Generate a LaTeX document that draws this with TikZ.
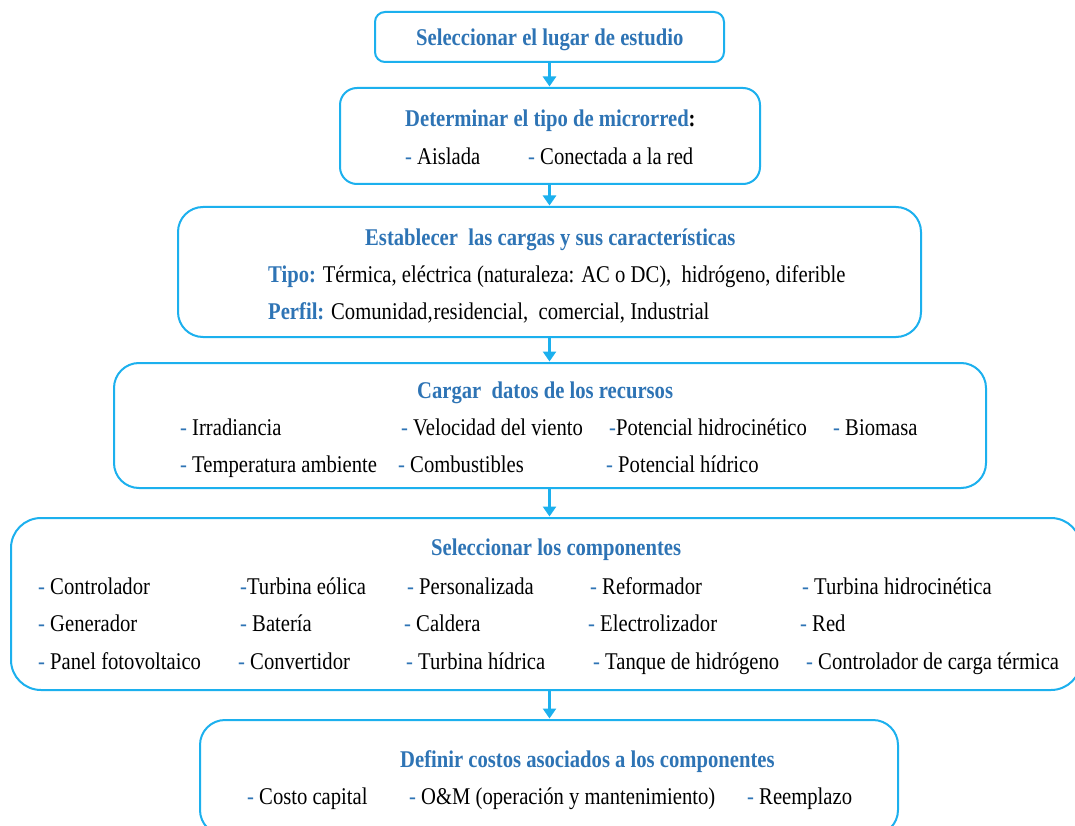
\documentclass[tikz,border=0pt]{standalone}
\usepackage{fontspec}
\setmainfont{Liberation Serif}[FakeStretch=0.86]
\usetikzlibrary{arrows.meta}
\definecolor{edge}{HTML}{1CB0EE}
\definecolor{head}{HTML}{2E74B5}
\newcommand{\dsh}{\textcolor{head}{-}}
\tikzset{
  stage/.style={draw=edge, line width=2pt, fill=white, inner sep=0pt},
  flow/.style={draw=edge, line width=3.2pt, -{Triangle[length=10pt,width=13pt]}, shorten >=0.5pt},
  ttl/.style={anchor=base west, inner sep=0pt, text=head, font=\fontsize{24}{28}\selectfont\bfseries},
  itm/.style={anchor=base west, inner sep=0pt, font=\fontsize{24}{28}\selectfont},
}
\begin{document}
\begin{tikzpicture}[x=1pt,y=-1pt]
\useasboundingbox (0,0) rectangle (1075,826);
\clip (0,0) rectangle (1075,826);
\fill[white] (0,0) rectangle (1075,826);

% stage boxes
\node[stage, rounded corners=10pt, minimum width=349pt, minimum height=50pt] (b1) at (549.5,37) {};
\node[stage, rounded corners=17pt, minimum width=420pt, minimum height=96pt] (b2) at (550,136) {};
\node[stage, rounded corners=25pt, minimum width=743pt, minimum height=130pt] (b3) at (549.5,272) {};
\node[stage, rounded corners=25pt, minimum width=872pt, minimum height=125pt] (b4) at (550,425.5) {};
\node[stage, rounded corners=30pt, minimum width=1070pt, minimum height=172pt] (b5) at (546,604) {};
\node[stage, rounded corners=25pt, minimum width=698pt, minimum height=115pt] (b6) at (549,777.5) {};

% connectors
\draw[flow] (b1.south) -- (b1.south |- b2.north);
\draw[flow] (b2.south -| b1.south) -- (b1.south |- b3.north);
\draw[flow] (b3.south -| b1.south) -- (b1.south |- b4.north);
\draw[flow] (b4.south -| b1.south) -- (b1.south |- b5.north);
\draw[flow] (b5.south -| b1.south) -- (b1.south |- b6.north);

% box 1
\node[ttl] (t1) at (416,46) {Seleccionar el lugar de estudio};

% box 2
\node[ttl] (t2) at (405,127) {Determinar el tipo de microrred\textcolor{black}{:}};
\node[itm] (t2a) at (405,165) {\dsh{} Aislada};
\node[itm] (t2b) at (528,165) {\dsh{} Conectada a la red};

% box 3
\node[ttl] (t3) at (365,245) {Establecer\ \ las cargas y sus características};
\node[itm] (t3a) at (268,282) {\textcolor{head}{\bfseries Tipo:} Térmica, eléctrica (naturaleza: AC o DC),\ \ hidrógeno, diferible};
\node[itm] (t3b) at (268,319) {\textcolor{head}{\bfseries Perfil:} Comunidad,\hspace{1pt}residencial,\ \ comercial, Industrial};

% box 4
\node[ttl] (t4) at (417,398) {Cargar\ \ datos de los recursos};
\node[itm] (t4a) at (180,435) {\dsh{} Irradiancia};
\node[itm] (t4b) at (401,435) {\dsh{} Velocidad del viento};
\node[itm] (t4c) at (609,435) {\dsh{}Potencial hidrocinético};
\node[itm] (t4d) at (833,435) {\dsh{} Biomasa};
\node[itm] (t4e) at (180,472) {\dsh{} Temperatura ambiente};
\node[itm] (t4f) at (398,472) {\dsh{} Combustibles};
\node[itm] (t4g) at (606,472) {\dsh{} Potencial hídrico};

% box 5
\node[ttl] (t5) at (431,555) {Seleccionar los componentes};
\node[itm] (c11) at (38,594) {\dsh{} Controlador};
\node[itm] (c12) at (38,631) {\dsh{} Generador};
\node[itm] (c13) at (38,669) {\dsh{} Panel fotovoltaico};
\node[itm] (c21) at (240,594) {\dsh{}Turbina eólica};
\node[itm] (c22) at (240,631) {\dsh{} Batería};
\node[itm] (c23) at (238,669) {\dsh{} Convertidor};
\node[itm] (c31) at (407,594) {\dsh{} Personalizada};
\node[itm] (c32) at (404,631) {\dsh{} Caldera};
\node[itm] (c33) at (406,669) {\dsh{} Turbina hídrica};
\node[itm] (c41) at (590,594) {\dsh{} Reformador};
\node[itm] (c42) at (588,631) {\dsh{} Electrolizador};
\node[itm] (c43) at (593,669) {\dsh{} Tanque de hidrógeno};
\node[itm] (c51) at (802,594) {\dsh{} Turbina hidrocinética};
\node[itm] (c52) at (800,631) {\dsh{} Red};
\node[itm] (c53) at (806,669) {\dsh{} Controlador de carga térmica};

% box 6
\node[ttl] (t6) at (400,767) {Definir costos asociados a los componentes};
\node[itm] (t6a) at (247,804) {\dsh{} Costo capital};
\node[itm] (t6b) at (409,804) {\dsh{} O\&M (operación y mantenimiento)};
\node[itm] (t6c) at (747,804) {\dsh{} Reemplazo};
\end{tikzpicture}
\end{document}
